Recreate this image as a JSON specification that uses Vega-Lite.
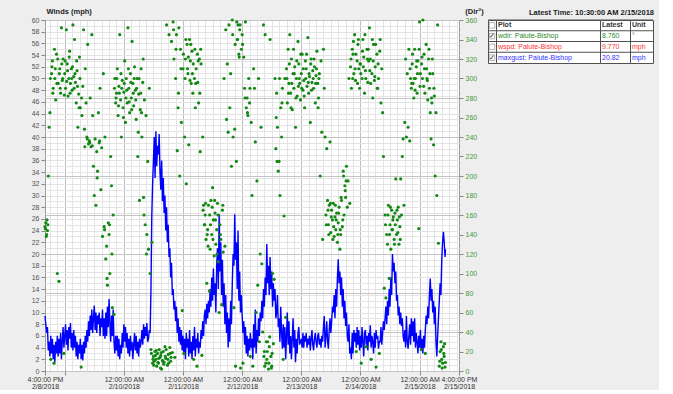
{
"$schema": "https://vega.github.io/schema/vega-lite/v6.json",
"background": "#eeeeee",
"padding": {"left": 26, "top": 6, "right": 5, "bottom": 0},
"config": {"font": "Liberation Sans", "view": {"stroke": null}},
"bounds": "flush",
"spacing": 29,
"resolve": {"scale": {"x": "independent", "y": "independent", "color": "independent"}},
"hconcat": [
{
"width": 414, "height": 351,
"view": {"fill": "white", "stroke": "#9a9a9a"},
"data": {"values": [
{"t":"2018-02-08T16:00","g":9.4,"d":148},{"t":"2018-02-08T16:20","g":8,"d":152},{"t":"2018-02-08T16:40","g":6.5,"d":140},
{"t":"2018-02-08T17:00","g":7.5,"d":144},{"t":"2018-02-08T17:20","g":3.5,"d":200},{"t":"2018-02-08T17:40","g":5,"d":250},
{"t":"2018-02-08T18:00","g":2.5,"d":265},{"t":"2018-02-08T18:20","g":6,"d":12},{"t":"2018-02-08T18:40","g":3,"d":305},
{"t":"2018-02-08T19:00","g":5.5,"d":318},{"t":"2018-02-08T19:20","g":2,"d":290},{"t":"2018-02-08T19:40","g":4.5,"d":8},
{"t":"2018-02-08T20:00","g":1.5,"d":300},{"t":"2018-02-08T20:20","g":5,"d":278},{"t":"2018-02-08T20:40","g":3,"d":325},
{"t":"2018-02-08T21:00","g":6,"d":100},{"t":"2018-02-08T21:20","g":2.5,"d":295},{"t":"2018-02-08T21:40","g":5.5,"d":92},
{"t":"2018-02-08T22:00","g":3,"d":310},{"t":"2018-02-08T22:20","g":6.5,"d":285},{"t":"2018-02-08T22:40","g":2,"d":352},
{"t":"2018-02-08T23:00","g":5,"d":298},{"t":"2018-02-08T23:20","g":7.5,"d":320},{"t":"2018-02-08T23:40","g":4,"d":18},
{"t":"2018-02-09T00:00","g":6,"d":305},{"t":"2018-02-09T00:20","g":8,"d":290},{"t":"2018-02-09T00:40","g":4.5,"d":350},
{"t":"2018-02-09T01:00","g":7,"d":315},{"t":"2018-02-09T01:20","g":3.5,"d":282},{"t":"2018-02-09T01:40","g":7.5,"d":300},
{"t":"2018-02-09T02:00","g":5.5,"d":328},{"t":"2018-02-09T02:20","g":8.2,"d":295},{"t":"2018-02-09T02:40","g":4,"d":310},
{"t":"2018-02-09T03:00","g":6.5,"d":288},{"t":"2018-02-09T03:20","g":3.5,"d":355},{"t":"2018-02-09T03:40","g":7,"d":302},
{"t":"2018-02-09T04:00","g":4,"d":340},{"t":"2018-02-09T04:20","g":6,"d":296},{"t":"2018-02-09T04:40","g":2.5,"d":275},
{"t":"2018-02-09T05:00","g":5,"d":308},{"t":"2018-02-09T05:20","g":2,"d":250},{"t":"2018-02-09T05:40","g":4.5,"d":284},
{"t":"2018-02-09T06:00","g":3,"d":322},{"t":"2018-02-09T06:20","g":5.5,"d":270},{"t":"2018-02-09T06:40","g":2,"d":4},
{"t":"2018-02-09T07:00","g":4.5,"d":262},{"t":"2018-02-09T07:20","g":1.8,"d":292},{"t":"2018-02-09T07:40","g":5,"d":350},
{"t":"2018-02-09T08:00","g":3,"d":248},{"t":"2018-02-09T08:20","g":6,"d":310},{"t":"2018-02-09T08:40","g":4,"d":275},
{"t":"2018-02-09T09:00","g":7,"d":240},{"t":"2018-02-09T09:20","g":5,"d":335},{"t":"2018-02-09T09:40","g":8.5,"d":233},
{"t":"2018-02-09T10:00","g":6,"d":236},{"t":"2018-02-09T10:20","g":9.5,"d":280},{"t":"2018-02-09T10:40","g":7,"d":230},
{"t":"2018-02-09T11:00","g":10.5,"d":345},{"t":"2018-02-09T11:20","g":6.5,"d":262},{"t":"2018-02-09T11:40","g":9,"d":210},
{"t":"2018-02-09T12:00","g":11.2,"d":180},{"t":"2018-02-09T12:20","g":7,"d":238},{"t":"2018-02-09T12:40","g":10,"d":170},
{"t":"2018-02-09T13:00","g":6.5,"d":225},{"t":"2018-02-09T13:20","g":9.5,"d":205},{"t":"2018-02-09T13:40","g":8,"d":265},
{"t":"2018-02-09T14:00","g":10,"d":234},{"t":"2018-02-09T14:20","g":6,"d":290},{"t":"2018-02-09T14:40","g":9,"d":186},
{"t":"2018-02-09T15:00","g":7.5,"d":229},{"t":"2018-02-09T15:20","g":10.5,"d":138},{"t":"2018-02-09T15:40","g":6,"d":305},
{"t":"2018-02-09T16:00","g":9,"d":148},{"t":"2018-02-09T16:20","g":5.5,"d":240},{"t":"2018-02-09T16:40","g":10,"d":115},
{"t":"2018-02-09T17:00","g":6,"d":128},{"t":"2018-02-09T17:20","g":11,"d":88},{"t":"2018-02-09T17:40","g":7.5,"d":152},
{"t":"2018-02-09T18:00","g":12.3,"d":140},{"t":"2018-02-09T18:20","g":8,"d":100},{"t":"2018-02-09T18:40","g":5,"d":220},
{"t":"2018-02-09T19:00","g":9.5,"d":190},{"t":"2018-02-09T19:20","g":6,"d":65},{"t":"2018-02-09T19:40","g":10.5,"d":160},
{"t":"2018-02-09T20:00","g":5,"d":58},{"t":"2018-02-09T20:20","g":3,"d":300},{"t":"2018-02-09T20:40","g":6,"d":275},
{"t":"2018-02-09T21:00","g":3.5,"d":285},{"t":"2018-02-09T21:20","g":6,"d":310},{"t":"2018-02-09T21:40","g":2.5,"d":262},
{"t":"2018-02-09T22:00","g":5.5,"d":292},{"t":"2018-02-09T22:20","g":2,"d":345},{"t":"2018-02-09T22:40","g":4.5,"d":278},
{"t":"2018-02-09T23:00","g":3,"d":240},{"t":"2018-02-09T23:20","g":6.5,"d":298},{"t":"2018-02-09T23:40","g":4,"d":270},
{"t":"2018-02-10T00:00","g":8,"d":286},{"t":"2018-02-10T00:20","g":5,"d":318},{"t":"2018-02-10T00:40","g":7.5,"d":255},
{"t":"2018-02-10T01:00","g":4,"d":300},{"t":"2018-02-10T01:20","g":6.5,"d":275},{"t":"2018-02-10T01:40","g":3,"d":352},
{"t":"2018-02-10T02:00","g":5.5,"d":290},{"t":"2018-02-10T02:20","g":2.5,"d":265},{"t":"2018-02-10T02:40","g":6,"d":305},
{"t":"2018-02-10T03:00","g":3.5,"d":280},{"t":"2018-02-10T03:20","g":5,"d":338},{"t":"2018-02-10T03:40","g":2,"d":295},
{"t":"2018-02-10T04:00","g":4.5,"d":272},{"t":"2018-02-10T04:20","g":6.5,"d":312},{"t":"2018-02-10T04:40","g":3.5,"d":288},
{"t":"2018-02-10T05:00","g":6,"d":258},{"t":"2018-02-10T05:20","g":3,"d":300},{"t":"2018-02-10T05:40","g":5,"d":220},
{"t":"2018-02-10T06:00","g":2.5,"d":284},{"t":"2018-02-10T06:20","g":5.5,"d":175},{"t":"2018-02-10T06:40","g":4,"d":268},
{"t":"2018-02-10T07:00","g":5,"d":310},{"t":"2018-02-10T07:20","g":7,"d":240},{"t":"2018-02-10T07:40","g":4.5,"d":296},
{"t":"2018-02-10T08:00","g":8,"d":178},{"t":"2018-02-10T08:20","g":5.5,"d":278},{"t":"2018-02-10T08:40","g":7.5,"d":150},
{"t":"2018-02-10T09:00","g":6,"d":262},{"t":"2018-02-10T09:20","g":8.2,"d":140},{"t":"2018-02-10T09:40","g":5,"d":215},
{"t":"2018-02-10T10:00","g":5.5,"d":125},{"t":"2018-02-10T10:20","g":7,"d":290},{"t":"2018-02-10T10:40","g":6.5,"d":100},
{"t":"2018-02-10T11:00","g":14,"d":22},{"t":"2018-02-10T11:20","g":26.5,"d":132},{"t":"2018-02-10T11:40","g":32,"d":8},
{"t":"2018-02-10T12:00","g":36,"d":15},{"t":"2018-02-10T12:20","g":40,"d":10},{"t":"2018-02-10T12:40","g":33,"d":20},
{"t":"2018-02-10T13:00","g":41,"d":12},{"t":"2018-02-10T13:20","g":35,"d":5},{"t":"2018-02-10T13:40","g":38.5,"d":18},
{"t":"2018-02-10T14:00","g":37,"d":8},{"t":"2018-02-10T14:20","g":40.5,"d":22},{"t":"2018-02-10T14:40","g":34,"d":14},
{"t":"2018-02-10T15:00","g":31,"d":16},{"t":"2018-02-10T15:20","g":36,"d":2},{"t":"2018-02-10T15:40","g":29,"d":11},
{"t":"2018-02-10T16:00","g":33,"d":20},{"t":"2018-02-10T16:20","g":27,"d":9},{"t":"2018-02-10T16:40","g":30,"d":25},
{"t":"2018-02-10T17:00","g":24,"d":13},{"t":"2018-02-10T17:20","g":28,"d":355},{"t":"2018-02-10T17:40","g":22,"d":6},
{"t":"2018-02-10T18:00","g":25,"d":17},{"t":"2018-02-10T18:20","g":19.5,"d":345},{"t":"2018-02-10T18:40","g":21,"d":24},
{"t":"2018-02-10T19:00","g":16,"d":10},{"t":"2018-02-10T19:20","g":18.5,"d":338},{"t":"2018-02-10T19:40","g":13,"d":19},
{"t":"2018-02-10T20:00","g":14,"d":358},{"t":"2018-02-10T20:20","g":10.5,"d":320},{"t":"2018-02-10T20:40","g":12,"d":14},
{"t":"2018-02-10T21:00","g":8.5,"d":300},{"t":"2018-02-10T21:20","g":11,"d":345},{"t":"2018-02-10T21:40","g":6.5,"d":226},
{"t":"2018-02-10T22:00","g":9,"d":270},{"t":"2018-02-10T22:20","g":5,"d":352},{"t":"2018-02-10T22:40","g":7.5,"d":200},
{"t":"2018-02-10T23:00","g":4.5,"d":330},{"t":"2018-02-10T23:20","g":7,"d":255},{"t":"2018-02-10T23:40","g":3.5,"d":62},
{"t":"2018-02-11T00:00","g":6,"d":310},{"t":"2018-02-11T00:20","g":3,"d":18},{"t":"2018-02-11T00:40","g":5.5,"d":240},
{"t":"2018-02-11T01:00","g":2,"d":320},{"t":"2018-02-11T01:20","g":6.5,"d":192},{"t":"2018-02-11T01:40","g":4,"d":335},
{"t":"2018-02-11T02:00","g":5.5,"d":305},{"t":"2018-02-11T02:20","g":2.5,"d":232},{"t":"2018-02-11T02:40","g":7,"d":340},
{"t":"2018-02-11T03:00","g":3,"d":318},{"t":"2018-02-11T03:20","g":5,"d":295},{"t":"2018-02-11T03:40","g":2,"d":328},
{"t":"2018-02-11T04:00","g":6,"d":285},{"t":"2018-02-11T04:20","g":3.5,"d":12},{"t":"2018-02-11T04:40","g":7.5,"d":300},
{"t":"2018-02-11T05:00","g":2.5,"d":270},{"t":"2018-02-11T05:20","g":5.5,"d":310},{"t":"2018-02-11T05:40","g":4,"d":5},
{"t":"2018-02-11T06:00","g":6.5,"d":296},{"t":"2018-02-11T06:20","g":3,"d":275},{"t":"2018-02-11T06:40","g":5,"d":320},
{"t":"2018-02-11T07:00","g":4,"d":225},{"t":"2018-02-11T07:20","g":7,"d":315},{"t":"2018-02-11T07:40","g":5.5,"d":16},
{"t":"2018-02-11T08:00","g":8.5,"d":240},{"t":"2018-02-11T08:20","g":6,"d":170},{"t":"2018-02-11T08:40","g":9.5,"d":150},
{"t":"2018-02-11T09:00","g":10.5,"d":160},{"t":"2018-02-11T09:20","g":8,"d":135},{"t":"2018-02-11T09:40","g":11.5,"d":90},
{"t":"2018-02-11T10:00","g":9,"d":145},{"t":"2018-02-11T10:20","g":12,"d":170},{"t":"2018-02-11T10:40","g":10,"d":82},
{"t":"2018-02-11T11:00","g":14,"d":125},{"t":"2018-02-11T11:20","g":11,"d":175},{"t":"2018-02-11T11:40","g":16,"d":140},
{"t":"2018-02-11T12:00","g":12,"d":188},{"t":"2018-02-11T12:20","g":17.5,"d":155},{"t":"2018-02-11T12:40","g":13,"d":118},
{"t":"2018-02-11T13:00","g":15,"d":162},{"t":"2018-02-11T13:20","g":10,"d":130},{"t":"2018-02-11T13:40","g":18,"d":145},
{"t":"2018-02-11T14:00","g":21,"d":172},{"t":"2018-02-11T14:20","g":14,"d":112},{"t":"2018-02-11T14:40","g":26.8,"d":60},
{"t":"2018-02-11T15:00","g":17,"d":150},{"t":"2018-02-11T15:20","g":22,"d":135},{"t":"2018-02-11T15:40","g":13,"d":68},
{"t":"2018-02-11T16:00","g":19,"d":165},{"t":"2018-02-11T16:20","g":11,"d":122},{"t":"2018-02-11T16:40","g":15,"d":300},
{"t":"2018-02-11T17:00","g":8,"d":128},{"t":"2018-02-11T17:20","g":13,"d":350},{"t":"2018-02-11T17:40","g":6.5,"d":258},
{"t":"2018-02-11T18:00","g":10,"d":315},{"t":"2018-02-11T18:20","g":4,"d":245},{"t":"2018-02-11T18:40","g":9,"d":355},
{"t":"2018-02-11T19:00","g":5,"d":270},{"t":"2018-02-11T19:20","g":12,"d":305},{"t":"2018-02-11T19:40","g":8,"d":210},
{"t":"2018-02-11T20:00","g":15,"d":360},{"t":"2018-02-11T20:20","g":20,"d":240},{"t":"2018-02-11T20:40","g":18,"d":65},
{"t":"2018-02-11T21:00","g":26.8,"d":248},{"t":"2018-02-11T21:20","g":19,"d":5},{"t":"2018-02-11T21:40","g":22,"d":215},
{"t":"2018-02-11T22:00","g":14,"d":340},{"t":"2018-02-11T22:20","g":24,"d":355},{"t":"2018-02-11T22:40","g":12,"d":325},
{"t":"2018-02-11T23:00","g":17,"d":350},{"t":"2018-02-11T23:20","g":10,"d":3},{"t":"2018-02-11T23:40","g":13,"d":330},
{"t":"2018-02-12T00:00","g":9.5,"d":345},{"t":"2018-02-12T00:20","g":6.5,"d":8},{"t":"2018-02-12T00:40","g":8.5,"d":322},
{"t":"2018-02-12T01:00","g":4.5,"d":290},{"t":"2018-02-12T01:20","g":7.5,"d":358},{"t":"2018-02-12T01:40","g":3,"d":270},
{"t":"2018-02-12T02:00","g":6,"d":280},{"t":"2018-02-12T02:20","g":2.5,"d":262},{"t":"2018-02-12T02:40","g":5.5,"d":300},
{"t":"2018-02-12T03:00","g":3.5,"d":275},{"t":"2018-02-12T03:20","g":6.5,"d":15},{"t":"2018-02-12T03:40","g":4,"d":255},
{"t":"2018-02-12T04:00","g":5.5,"d":180},{"t":"2018-02-12T04:20","g":2,"d":5},{"t":"2018-02-12T04:40","g":8,"d":310},
{"t":"2018-02-12T05:00","g":4,"d":290},{"t":"2018-02-12T05:20","g":10.5,"d":235},{"t":"2018-02-12T05:40","g":3,"d":60},
{"t":"2018-02-12T06:00","g":7,"d":195},{"t":"2018-02-12T06:20","g":5,"d":88},{"t":"2018-02-12T06:40","g":9,"d":300},
{"t":"2018-02-12T07:00","g":6,"d":30},{"t":"2018-02-12T07:20","g":10,"d":120},{"t":"2018-02-12T07:40","g":8.5,"d":250},
{"t":"2018-02-12T08:00","g":12,"d":110},{"t":"2018-02-12T08:20","g":9,"d":40},{"t":"2018-02-12T08:40","g":14,"d":355},
{"t":"2018-02-12T09:00","g":11,"d":20},{"t":"2018-02-12T09:20","g":16,"d":345},{"t":"2018-02-12T09:40","g":13,"d":8},
{"t":"2018-02-12T10:00","g":21.7,"d":12},{"t":"2018-02-12T10:20","g":15,"d":30},{"t":"2018-02-12T10:40","g":18,"d":2},
{"t":"2018-02-12T11:00","g":13,"d":25},{"t":"2018-02-12T11:20","g":19.5,"d":340},{"t":"2018-02-12T11:40","g":14,"d":15},
{"t":"2018-02-12T12:00","g":17,"d":5},{"t":"2018-02-12T12:20","g":11,"d":100},{"t":"2018-02-12T12:40","g":15,"d":28},
{"t":"2018-02-12T13:00","g":12,"d":94},{"t":"2018-02-12T13:20","g":14,"d":300},{"t":"2018-02-12T13:40","g":9,"d":228},
{"t":"2018-02-12T14:00","g":10,"d":285},{"t":"2018-02-12T14:20","g":13,"d":250},{"t":"2018-02-12T14:40","g":7.5,"d":205},
{"t":"2018-02-12T15:00","g":9,"d":215},{"t":"2018-02-12T15:20","g":5,"d":180},{"t":"2018-02-12T15:40","g":11,"d":270},
{"t":"2018-02-12T16:00","g":6.5,"d":240},{"t":"2018-02-12T16:20","g":3.8,"d":290},{"t":"2018-02-12T16:40","g":8,"d":12},
{"t":"2018-02-12T17:00","g":4,"d":159},{"t":"2018-02-12T17:20","g":7.5,"d":300},{"t":"2018-02-12T17:40","g":2,"d":55},
{"t":"2018-02-12T18:00","g":6,"d":310},{"t":"2018-02-12T18:20","g":10,"d":275},{"t":"2018-02-12T18:40","g":4.5,"d":330},
{"t":"2018-02-12T19:00","g":8.5,"d":295},{"t":"2018-02-12T19:20","g":3,"d":345},{"t":"2018-02-12T19:40","g":6,"d":285},
{"t":"2018-02-12T20:00","g":2,"d":320},{"t":"2018-02-12T20:20","g":5.5,"d":268},{"t":"2018-02-12T20:40","g":9,"d":305},
{"t":"2018-02-12T21:00","g":4,"d":290},{"t":"2018-02-12T21:20","g":7,"d":312},{"t":"2018-02-12T21:40","g":1.5,"d":250},
{"t":"2018-02-12T22:00","g":5.5,"d":300},{"t":"2018-02-12T22:20","g":3,"d":282},{"t":"2018-02-12T22:40","g":6.5,"d":338},
{"t":"2018-02-12T23:00","g":7.5,"d":315},{"t":"2018-02-12T23:20","g":4.5,"d":295},{"t":"2018-02-12T23:40","g":5,"d":278},
{"t":"2018-02-13T00:00","g":5.5,"d":305},{"t":"2018-02-13T00:20","g":4,"d":325},{"t":"2018-02-13T00:40","g":6.5,"d":288},
{"t":"2018-02-13T01:00","g":4,"d":298},{"t":"2018-02-13T01:20","g":6,"d":270},{"t":"2018-02-13T01:40","g":5,"d":318},
{"t":"2018-02-13T02:00","g":6.5,"d":310},{"t":"2018-02-13T02:20","g":4,"d":292},{"t":"2018-02-13T02:40","g":5.5,"d":342},
{"t":"2018-02-13T03:00","g":4.5,"d":285},{"t":"2018-02-13T03:20","g":6,"d":302},{"t":"2018-02-13T03:40","g":3.5,"d":255},
{"t":"2018-02-13T04:00","g":5.5,"d":320},{"t":"2018-02-13T04:20","g":7,"d":296},{"t":"2018-02-13T04:40","g":4.5,"d":308},
{"t":"2018-02-13T05:00","g":3.5,"d":290},{"t":"2018-02-13T05:20","g":5.5,"d":312},{"t":"2018-02-13T05:40","g":6.5,"d":275},
{"t":"2018-02-13T06:00","g":5,"d":303},{"t":"2018-02-13T06:20","g":4,"d":328},{"t":"2018-02-13T06:40","g":6,"d":295},
{"t":"2018-02-13T07:00","g":6.5,"d":280},{"t":"2018-02-13T07:20","g":4.5,"d":305},{"t":"2018-02-13T07:40","g":5.5,"d":200},
{"t":"2018-02-13T08:00","g":4,"d":318},{"t":"2018-02-13T08:20","g":6,"d":245},{"t":"2018-02-13T08:40","g":5,"d":135},
{"t":"2018-02-13T09:00","g":7.5,"d":330},{"t":"2018-02-13T09:20","g":9.4,"d":290},{"t":"2018-02-13T09:40","g":4,"d":240},
{"t":"2018-02-13T10:00","g":6,"d":160},{"t":"2018-02-13T10:20","g":8.5,"d":228},{"t":"2018-02-13T10:40","g":5,"d":175},
{"t":"2018-02-13T11:00","g":3.8,"d":150},{"t":"2018-02-13T11:20","g":7,"d":170},{"t":"2018-02-13T11:40","g":9,"d":235},
{"t":"2018-02-13T12:00","g":6.5,"d":142},{"t":"2018-02-13T12:20","g":8.5,"d":165},{"t":"2018-02-13T12:40","g":11,"d":155},
{"t":"2018-02-13T13:00","g":10,"d":172},{"t":"2018-02-13T13:20","g":13,"d":138},{"t":"2018-02-13T13:40","g":9,"d":158},
{"t":"2018-02-13T14:00","g":14,"d":145},{"t":"2018-02-13T14:20","g":11,"d":162},{"t":"2018-02-13T14:40","g":16,"d":132},
{"t":"2018-02-13T15:00","g":19.1,"d":152},{"t":"2018-02-13T15:20","g":15,"d":168},{"t":"2018-02-13T15:40","g":17,"d":125},
{"t":"2018-02-13T16:00","g":13,"d":140},{"t":"2018-02-13T16:20","g":16,"d":175},{"t":"2018-02-13T16:40","g":11,"d":148},
{"t":"2018-02-13T17:00","g":14,"d":205},{"t":"2018-02-13T17:20","g":9,"d":160},{"t":"2018-02-13T17:40","g":12,"d":190},
{"t":"2018-02-13T18:00","g":7.7,"d":178},{"t":"2018-02-13T18:20","g":10,"d":210},{"t":"2018-02-13T18:40","g":6,"d":168},
{"t":"2018-02-13T19:00","g":5,"d":195},{"t":"2018-02-13T19:20","g":8,"d":300},{"t":"2018-02-13T19:40","g":3,"d":172},
{"t":"2018-02-13T20:00","g":4,"d":312},{"t":"2018-02-13T20:20","g":2,"d":290},{"t":"2018-02-13T20:40","g":6.5,"d":330},
{"t":"2018-02-13T21:00","g":3,"d":325},{"t":"2018-02-13T21:20","g":7,"d":305},{"t":"2018-02-13T21:40","g":5,"d":345},
{"t":"2018-02-13T22:00","g":6.5,"d":298},{"t":"2018-02-13T22:20","g":4,"d":20},{"t":"2018-02-13T22:40","g":7.5,"d":318},
{"t":"2018-02-13T23:00","g":4.5,"d":335},{"t":"2018-02-13T23:20","g":7,"d":310},{"t":"2018-02-13T23:40","g":3.5,"d":290},
{"t":"2018-02-14T00:00","g":6,"d":315},{"t":"2018-02-14T00:20","g":4,"d":8},{"t":"2018-02-14T00:40","g":7.5,"d":300},
{"t":"2018-02-14T01:00","g":5,"d":340},{"t":"2018-02-14T01:20","g":2.5,"d":322},{"t":"2018-02-14T01:40","g":6.5,"d":285},
{"t":"2018-02-14T02:00","g":7,"d":308},{"t":"2018-02-14T02:20","g":4.5,"d":25},{"t":"2018-02-14T02:40","g":6,"d":330},
{"t":"2018-02-14T03:00","g":3.5,"d":296},{"t":"2018-02-14T03:20","g":6.5,"d":318},{"t":"2018-02-14T03:40","g":5,"d":352},
{"t":"2018-02-14T04:00","g":7.8,"d":320},{"t":"2018-02-14T04:20","g":4,"d":12},{"t":"2018-02-14T04:40","g":6,"d":305},
{"t":"2018-02-14T05:00","g":5,"d":280},{"t":"2018-02-14T05:20","g":3,"d":335},{"t":"2018-02-14T05:40","g":6.5,"d":298},
{"t":"2018-02-14T06:00","g":4,"d":312},{"t":"2018-02-14T06:20","g":7,"d":4},{"t":"2018-02-14T06:40","g":5.5,"d":325},
{"t":"2018-02-14T07:00","g":6,"d":290},{"t":"2018-02-14T07:20","g":3.8,"d":300},{"t":"2018-02-14T07:40","g":5,"d":18},
{"t":"2018-02-14T08:00","g":5,"d":340},{"t":"2018-02-14T08:20","g":7.5,"d":275},{"t":"2018-02-14T08:40","g":4.5,"d":310},
{"t":"2018-02-14T09:00","g":6.5,"d":265},{"t":"2018-02-14T09:20","g":8.5,"d":220},{"t":"2018-02-14T09:40","g":7,"d":85},
{"t":"2018-02-14T10:00","g":9,"d":160},{"t":"2018-02-14T10:20","g":11,"d":75},{"t":"2018-02-14T10:40","g":8,"d":140},
{"t":"2018-02-14T11:00","g":12,"d":130},{"t":"2018-02-14T11:20","g":9.5,"d":170},{"t":"2018-02-14T11:40","g":14,"d":95},
{"t":"2018-02-14T12:00","g":11,"d":150},{"t":"2018-02-14T12:20","g":16,"d":125},{"t":"2018-02-14T12:40","g":13,"d":165},
{"t":"2018-02-14T13:00","g":20,"d":145},{"t":"2018-02-14T13:20","g":17,"d":158},{"t":"2018-02-14T13:40","g":18.5,"d":135},
{"t":"2018-02-14T14:00","g":15,"d":162},{"t":"2018-02-14T14:20","g":17,"d":197},{"t":"2018-02-14T14:40","g":12,"d":140},
{"t":"2018-02-14T15:00","g":13,"d":155},{"t":"2018-02-14T15:20","g":9.5,"d":168},{"t":"2018-02-14T15:40","g":11,"d":130},
{"t":"2018-02-14T16:00","g":8,"d":148},{"t":"2018-02-14T16:20","g":10,"d":197},{"t":"2018-02-14T16:40","g":7.7,"d":160},
{"t":"2018-02-14T17:00","g":9,"d":220},{"t":"2018-02-14T17:20","g":6,"d":238},{"t":"2018-02-14T17:40","g":5,"d":170},
{"t":"2018-02-14T18:00","g":7,"d":255},{"t":"2018-02-14T18:20","g":4,"d":320},{"t":"2018-02-14T18:40","g":9.4,"d":240},
{"t":"2018-02-14T19:00","g":5,"d":305},{"t":"2018-02-14T19:20","g":3.8,"d":250},{"t":"2018-02-14T19:40","g":6,"d":330},
{"t":"2018-02-14T20:00","g":8,"d":236},{"t":"2018-02-14T20:20","g":4.5,"d":300},{"t":"2018-02-14T20:40","g":9,"d":290},
{"t":"2018-02-14T21:00","g":6,"d":315},{"t":"2018-02-14T21:20","g":8.5,"d":295},{"t":"2018-02-14T21:40","g":5,"d":280},
{"t":"2018-02-14T22:00","g":9,"d":330},{"t":"2018-02-14T22:20","g":4,"d":300},{"t":"2018-02-14T22:40","g":6.5,"d":312},
{"t":"2018-02-14T23:00","g":5,"d":285},{"t":"2018-02-14T23:20","g":3,"d":318},{"t":"2018-02-14T23:40","g":6,"d":146},
{"t":"2018-02-15T00:00","g":4,"d":358},{"t":"2018-02-15T00:20","g":7,"d":305},{"t":"2018-02-15T00:40","g":3.5,"d":22},
{"t":"2018-02-15T01:00","g":5.5,"d":322},{"t":"2018-02-15T01:20","g":3,"d":360},{"t":"2018-02-15T01:40","g":6,"d":292},
{"t":"2018-02-15T02:00","g":4,"d":310},{"t":"2018-02-15T02:20","g":7,"d":18},{"t":"2018-02-15T02:40","g":9.5,"d":335},
{"t":"2018-02-15T03:00","g":8,"d":300},{"t":"2018-02-15T03:20","g":11,"d":278},{"t":"2018-02-15T03:40","g":9,"d":320},
{"t":"2018-02-15T04:00","g":13,"d":290},{"t":"2018-02-15T04:20","g":15.8,"d":265},{"t":"2018-02-15T04:40","g":12,"d":238},
{"t":"2018-02-15T05:00","g":14,"d":275},{"t":"2018-02-15T05:20","g":10,"d":305},{"t":"2018-02-15T05:40","g":12,"d":232},
{"t":"2018-02-15T06:00","g":8,"d":282},{"t":"2018-02-15T06:20","g":11,"d":200},{"t":"2018-02-15T06:40","g":5,"d":265},
{"t":"2018-02-15T07:00","g":2.5,"d":180},{"t":"2018-02-15T07:20","g":6,"d":355},{"t":"2018-02-15T07:40","g":9,"d":131},
{"t":"2018-02-15T08:00","g":12,"d":5},{"t":"2018-02-15T08:20","g":15,"d":20},{"t":"2018-02-15T08:40","g":13,"d":30},
{"t":"2018-02-15T09:00","g":19,"d":12},{"t":"2018-02-15T09:20","g":22,"d":8},{"t":"2018-02-15T09:40","g":23.8,"d":25},
{"t":"2018-02-15T10:00","g":22,"d":15},{"t":"2018-02-15T10:20","g":19.5,"d":4},{"t":"2018-02-15T10:30","g":20.82,"d":8.76}
]},
"layer": [
{
"mark": {"type": "point", "opacity": 0},
"encoding": {
"x": {"field": "t", "type": "temporal", "scale": {"domain": ["2018-02-08T16:00", "2018-02-15T16:00"]},
"axis": {"orient": "bottom", "grid": true, "gridColor": "#e4e4e4", "labels": false, "ticks": false, "domain": false, "title": null, "tickCount": 56}},
"y": {"field": "g", "type": "quantitative", "scale": {"domain": [0, 60], "nice": false, "zero": false},
"axis": {"orient": "left", "grid": true, "gridColor": "#e4e4e4", "labels": false, "ticks": false, "domain": false, "title": null, "values": [0,1,2,3,4,5,6,7,8,9,10,11,12,13,14,15,16,17,18,19,20,21,22,23,24,25,26,27,28,29,30,31,32,33,34,35,36,37,38,39,40,41,42,43,44,45,46,47,48,49,50,51,52,53,54,55,56,57,58,59,60]}}
}
},
{
"mark": {"type": "point", "opacity": 0},
"encoding": {
"x": {"field": "t", "type": "temporal",
"axis": {"orient": "bottom", "grid": true, "gridColor": "#bdbdbd", "labels": false, "ticks": false, "domain": false, "title": null, "tickCount": 7}},
"y": {"field": "d", "type": "quantitative", "scale": {"domain": [0, 360], "nice": false, "zero": false},
"axis": {"orient": "right", "grid": true, "gridColor": "#c4c4c4", "labels": false, "ticks": false, "domain": false, "title": null, "values": [0, 40, 80, 120, 160, 200, 240, 280, 320, 360]}}
}
},
{
"mark": {"type": "line", "color": "#0000ff", "strokeWidth": 1.4},
"encoding": {
"x": {"field": "t", "type": "temporal",
"axis": {"orient": "bottom", "grid": false, "domain": false, "title": null, "tickSize": 4, "tickColor": "#888888", "labelFontSize": 7, "labelColor": "#333333", "labelPadding": 0, "labelFlush": false, "labelOverlap": false,
"values": ["2018-02-08T16:00", "2018-02-09T00:00", "2018-02-10T00:00", "2018-02-11T00:00", "2018-02-12T00:00", "2018-02-13T00:00", "2018-02-14T00:00", "2018-02-15T00:00", "2018-02-15T16:00"],
"labelExpr": "(hours(datum.value) == 0 && date(datum.value) == 9) ? '' : timeFormat(datum.value, '%-I:%M:%S %p')"}},
"y": {"field": "g", "type": "quantitative", "scale": {"domain": [0, 60], "nice": false, "zero": false},
"axis": {"orient": "left", "grid": false, "domain": false, "values": [0,2,4,6,8,10,12,14,16,18,20,22,24,26,28,30,32,34,36,38,40,42,44,46,48,50,52,54,56,58,60], "tickSize": 4, "tickColor": "#888888", "labelFontSize": 7, "labelColor": "#555555", "labelPadding": 2,
"title": "Winds (mph)", "titleAngle": 0, "titleX": 1, "titleY": -5, "titleAlign": "left", "titleBaseline": "bottom", "titleFontSize": 7.5, "titleFontWeight": "bold", "titleColor": "#222222"}}
}
},
{
"mark": {"type": "circle", "color": "#118811", "size": 10, "opacity": 1},
"encoding": {
"x": {"field": "t", "type": "temporal",
"axis": {"orient": "bottom", "grid": false, "domain": false, "title": null, "ticks": false, "tickSize": 0, "labelFontSize": 7, "labelColor": "#333333", "labelPadding": 11, "labelFlush": false, "labelOverlap": false,
"values": ["2018-02-08T16:00", "2018-02-09T00:00", "2018-02-10T00:00", "2018-02-11T00:00", "2018-02-12T00:00", "2018-02-13T00:00", "2018-02-14T00:00", "2018-02-15T00:00", "2018-02-15T16:00"],
"labelExpr": "(hours(datum.value) == 0 && date(datum.value) == 9) ? '' : timeFormat(datum.value, '%-m/%-d/%Y')"}},
"y": {"field": "d", "type": "quantitative", "scale": {"domain": [0, 360], "nice": false, "zero": false},
"axis": {"orient": "right", "grid": false, "domain": false, "values": [0,20,40,60,80,100,120,140,160,180,200,220,240,260,280,300,320,340,360], "tickSize": 4, "tickColor": "#888888", "labelFontSize": 7, "labelColor": "#3f9a3f", "labelPadding": 2,
"title": "(Dir°)", "titleAngle": 0, "titleX": 15, "titleY": -5, "titleAlign": "center", "titleBaseline": "bottom", "titleFontSize": 7.5, "titleFontWeight": "bold", "titleColor": "#222222"}}
}
},
{
"data": {"values": [
{"t":"2018-02-08T16:10","d":146},{"t":"2018-02-08T16:30","d":138},{"t":"2018-02-08T16:50","d":155},{"t":"2018-02-08T17:10","d":150},
{"t":"2018-02-08T18:10","d":300},{"t":"2018-02-08T18:50","d":312},{"t":"2018-02-08T19:10","d":285},{"t":"2018-02-08T19:50","d":330},
{"t":"2018-02-08T20:10","d":310},{"t":"2018-02-08T20:50","d":295},{"t":"2018-02-08T21:10","d":320},{"t":"2018-02-08T21:50","d":305},
{"t":"2018-02-08T22:10","d":290},{"t":"2018-02-08T22:50","d":315},{"t":"2018-02-08T23:10","d":300},{"t":"2018-02-08T23:50","d":283},
{"t":"2018-02-09T00:10","d":318},{"t":"2018-02-09T00:50","d":297},{"t":"2018-02-09T01:10","d":308},{"t":"2018-02-09T01:50","d":322},
{"t":"2018-02-09T02:10","d":285},{"t":"2018-02-09T02:50","d":300},{"t":"2018-02-09T03:10","d":312},{"t":"2018-02-09T03:50","d":290},
{"t":"2018-02-09T04:10","d":305},{"t":"2018-02-09T04:50","d":318},{"t":"2018-02-09T05:10","d":292},{"t":"2018-02-09T05:50","d":270},
{"t":"2018-02-09T06:10","d":300},{"t":"2018-02-09T06:50","d":280},
{"t":"2018-02-09T08:10","d":230},{"t":"2018-02-09T09:10","d":238},{"t":"2018-02-09T10:10","d":234},{"t":"2018-02-09T11:10","d":231},
{"t":"2018-02-09T13:10","d":198},{"t":"2018-02-09T14:10","d":236},{"t":"2018-02-09T16:10","d":145},{"t":"2018-02-09T17:10","d":95},
{"t":"2018-02-09T18:10","d":150},{"t":"2018-02-09T19:10","d":120},
{"t":"2018-02-09T20:10","d":290},{"t":"2018-02-09T20:50","d":280},{"t":"2018-02-09T21:10","d":300},{"t":"2018-02-09T21:50","d":272},
{"t":"2018-02-09T22:10","d":285},{"t":"2018-02-09T22:50","d":305},{"t":"2018-02-09T23:10","d":290},{"t":"2018-02-09T23:50","d":260},
{"t":"2018-02-10T00:10","d":295},{"t":"2018-02-10T00:50","d":280},{"t":"2018-02-10T01:10","d":288},{"t":"2018-02-10T01:50","d":310},
{"t":"2018-02-10T02:10","d":276},{"t":"2018-02-10T02:50","d":296},{"t":"2018-02-10T03:10","d":268},{"t":"2018-02-10T03:50","d":285},
{"t":"2018-02-10T04:10","d":300},{"t":"2018-02-10T04:50","d":278},{"t":"2018-02-10T05:10","d":290},{"t":"2018-02-10T05:50","d":245},
{"t":"2018-02-10T06:10","d":300},{"t":"2018-02-10T06:50","d":285},{"t":"2018-02-10T07:10","d":265},{"t":"2018-02-10T07:50","d":320},
{"t":"2018-02-10T08:10","d":160},{"t":"2018-02-10T09:10","d":120},
{"t":"2018-02-10T11:10","d":18},{"t":"2018-02-10T11:50","d":12},{"t":"2018-02-10T12:10","d":6},{"t":"2018-02-10T12:50","d":16},
{"t":"2018-02-10T13:10","d":21},{"t":"2018-02-10T13:50","d":9},{"t":"2018-02-10T14:10","d":13},{"t":"2018-02-10T14:50","d":3},
{"t":"2018-02-10T15:10","d":19},{"t":"2018-02-10T15:50","d":10},{"t":"2018-02-10T16:10","d":7},{"t":"2018-02-10T16:50","d":15},
{"t":"2018-02-10T17:10","d":22},{"t":"2018-02-10T17:50","d":12},{"t":"2018-02-10T18:10","d":8},{"t":"2018-02-10T18:50","d":18},
{"t":"2018-02-10T19:10","d":14},
{"t":"2018-02-10T20:10","d":350},{"t":"2018-02-10T21:10","d":330},{"t":"2018-02-10T22:10","d":285},{"t":"2018-02-10T23:10","d":310},
{"t":"2018-02-11T00:10","d":325},{"t":"2018-02-11T00:50","d":300},{"t":"2018-02-11T01:10","d":340},{"t":"2018-02-11T01:50","d":310},
{"t":"2018-02-11T02:10","d":322},{"t":"2018-02-11T02:50","d":298},{"t":"2018-02-11T03:10","d":335},{"t":"2018-02-11T03:50","d":305},
{"t":"2018-02-11T04:10","d":315},{"t":"2018-02-11T04:50","d":330},{"t":"2018-02-11T05:10","d":295},{"t":"2018-02-11T05:50","d":325},
{"t":"2018-02-11T06:10","d":318},{"t":"2018-02-11T06:50","d":285},{"t":"2018-02-11T07:10","d":330},
{"t":"2018-02-11T08:10","d":165},{"t":"2018-02-11T08:50","d":150},{"t":"2018-02-11T09:10","d":172},{"t":"2018-02-11T09:50","d":140},
{"t":"2018-02-11T10:10","d":128},{"t":"2018-02-11T10:50","d":160},{"t":"2018-02-11T11:10","d":150},{"t":"2018-02-11T11:50","d":168},
{"t":"2018-02-11T12:10","d":135},{"t":"2018-02-11T12:50","d":175},{"t":"2018-02-11T13:10","d":155},{"t":"2018-02-11T13:50","d":120},
{"t":"2018-02-11T14:10","d":160},{"t":"2018-02-11T15:10","d":140},{"t":"2018-02-11T16:10","d":170},
{"t":"2018-02-11T20:10","d":345},{"t":"2018-02-11T21:10","d":335},{"t":"2018-02-11T21:50","d":358},{"t":"2018-02-11T22:10","d":340},
{"t":"2018-02-11T22:50","d":322},{"t":"2018-02-11T23:10","d":355},
{"t":"2018-02-12T00:10","d":335},{"t":"2018-02-12T01:10","d":280},{"t":"2018-02-12T02:10","d":265},{"t":"2018-02-12T03:10","d":290},
{"t":"2018-02-12T08:50","d":15},{"t":"2018-02-12T09:10","d":5},{"t":"2018-02-12T09:50","d":30},{"t":"2018-02-12T10:10","d":20},
{"t":"2018-02-12T10:50","d":8},{"t":"2018-02-12T11:10","d":35},{"t":"2018-02-12T11:50","d":3},{"t":"2018-02-12T12:10","d":18},
{"t":"2018-02-12T13:50","d":260},{"t":"2018-02-12T14:10","d":215},{"t":"2018-02-12T15:10","d":300},{"t":"2018-02-12T16:10","d":275},
{"t":"2018-02-12T18:10","d":300},{"t":"2018-02-12T18:50","d":285},{"t":"2018-02-12T19:10","d":315},{"t":"2018-02-12T19:50","d":270},
{"t":"2018-02-12T20:10","d":295},{"t":"2018-02-12T20:50","d":330},{"t":"2018-02-12T21:10","d":305},{"t":"2018-02-12T21:50","d":280},
{"t":"2018-02-12T22:10","d":318},{"t":"2018-02-12T22:50","d":292},{"t":"2018-02-12T23:10","d":300},{"t":"2018-02-12T23:50","d":325},
{"t":"2018-02-13T00:10","d":290},{"t":"2018-02-13T00:50","d":310},{"t":"2018-02-13T01:10","d":282},{"t":"2018-02-13T01:50","d":300},
{"t":"2018-02-13T02:10","d":325},{"t":"2018-02-13T02:50","d":296},{"t":"2018-02-13T03:10","d":305},{"t":"2018-02-13T03:50","d":315},
{"t":"2018-02-13T04:10","d":288},{"t":"2018-02-13T04:50","d":300},{"t":"2018-02-13T05:10","d":320},{"t":"2018-02-13T05:50","d":295},
{"t":"2018-02-13T06:10","d":310},{"t":"2018-02-13T06:50","d":270},{"t":"2018-02-13T07:10","d":300},
{"t":"2018-02-13T10:10","d":150},{"t":"2018-02-13T10:50","d":165},{"t":"2018-02-13T11:10","d":140},{"t":"2018-02-13T11:50","d":172},
{"t":"2018-02-13T12:10","d":158},{"t":"2018-02-13T12:50","d":135},{"t":"2018-02-13T13:10","d":148},{"t":"2018-02-13T13:50","d":170},
{"t":"2018-02-13T14:10","d":155},{"t":"2018-02-13T14:50","d":140},{"t":"2018-02-13T15:10","d":162},{"t":"2018-02-13T15:50","d":145},
{"t":"2018-02-13T16:10","d":178},{"t":"2018-02-13T16:50","d":155},{"t":"2018-02-13T17:10","d":200},{"t":"2018-02-13T17:50","d":185},
{"t":"2018-02-13T18:10","d":195},
{"t":"2018-02-13T20:10","d":320},{"t":"2018-02-13T20:50","d":300},{"t":"2018-02-13T21:10","d":338},{"t":"2018-02-13T21:50","d":310},
{"t":"2018-02-13T22:10","d":325},{"t":"2018-02-13T22:50","d":295},{"t":"2018-02-13T23:10","d":340},{"t":"2018-02-13T23:50","d":315},
{"t":"2018-02-14T00:10","d":305},{"t":"2018-02-14T00:50","d":328},{"t":"2018-02-14T01:10","d":312},{"t":"2018-02-14T01:50","d":345},
{"t":"2018-02-14T02:10","d":300},{"t":"2018-02-14T02:50","d":320},{"t":"2018-02-14T03:10","d":330},{"t":"2018-02-14T03:50","d":308},
{"t":"2018-02-14T04:10","d":295},{"t":"2018-02-14T04:50","d":340},{"t":"2018-02-14T05:10","d":318},{"t":"2018-02-14T05:50","d":302},
{"t":"2018-02-14T06:10","d":335},{"t":"2018-02-14T06:50","d":290},{"t":"2018-02-14T07:10","d":315},{"t":"2018-02-14T07:50","d":328},
{"t":"2018-02-14T10:10","d":150},{"t":"2018-02-14T11:10","d":160},{"t":"2018-02-14T11:50","d":140},{"t":"2018-02-14T12:10","d":168},
{"t":"2018-02-14T12:50","d":145},{"t":"2018-02-14T13:10","d":155},{"t":"2018-02-14T13:50","d":130},{"t":"2018-02-14T14:10","d":150},
{"t":"2018-02-14T14:50","d":165},{"t":"2018-02-14T15:10","d":142},{"t":"2018-02-14T15:50","d":158},{"t":"2018-02-14T16:10","d":135},
{"t":"2018-02-14T20:10","d":310},{"t":"2018-02-14T20:50","d":295},{"t":"2018-02-14T21:10","d":325},{"t":"2018-02-14T21:50","d":300},
{"t":"2018-02-14T22:10","d":288},{"t":"2018-02-14T22:50","d":318},{"t":"2018-02-14T23:10","d":305},{"t":"2018-02-14T23:50","d":330},
{"t":"2018-02-15T00:10","d":292},{"t":"2018-02-15T00:50","d":315},{"t":"2018-02-15T01:10","d":300},{"t":"2018-02-15T01:50","d":325},
{"t":"2018-02-15T02:10","d":285},{"t":"2018-02-15T02:50","d":310},{"t":"2018-02-15T03:10","d":298},{"t":"2018-02-15T03:50","d":330},
{"t":"2018-02-15T04:10","d":305},{"t":"2018-02-15T04:50","d":280},{"t":"2018-02-15T05:10","d":320},{"t":"2018-02-15T05:50","d":290},
{"t":"2018-02-15T08:10","d":10},{"t":"2018-02-15T08:50","d":22},{"t":"2018-02-15T09:10","d":3},{"t":"2018-02-15T09:50","d":18},
{"t":"2018-02-15T10:10","d":28}
]},
"mark": {"type": "circle", "color": "#118811", "size": 10, "opacity": 1},
"encoding": {
"x": {"field": "t", "type": "temporal", "axis": null},
"y": {"field": "d", "type": "quantitative", "scale": {"domain": [0, 360], "nice": false, "zero": false}, "axis": null}
}
}
],
"resolve": {"scale": {"y": "independent"}, "axis": {"x": "independent", "y": "independent"}}
},
{
"title": {"text": "Latest Time: 10:30:00 AM 2/15/2018", "anchor": "end", "fontSize": 7.5, "fontWeight": "bold", "color": "#222222", "offset": 3},
"data": {"values": [
{"row": "h", "chk": "off", "plot": "Plot", "latest": "Latest", "unit": "Unit", "s": "h"},
{"row": "wdir", "chk": "on", "plot": "wdir: Paiute-Bishop", "latest": "8.760", "unit": "°", "s": "wdir"},
{"row": "wspd", "chk": "off", "plot": "wspd: Paiute-Bishop", "latest": "9.770", "unit": "mph", "s": "wspd"},
{"row": "maxgust", "chk": "on", "plot": "maxgust: Paiute-Bishop", "latest": "20.82", "unit": "mph", "s": "maxgust"}
]},
"spacing": 0,
"bounds": "flush",
"resolve": {"scale": {"x": "independent"}},
"hconcat": [
{
"width": 8, "height": 43,
"view": {"fill": "white", "stroke": "#505050"},
"layer": [
{"mark": {"type": "rule", "color": "#505050", "strokeWidth": 1},
"encoding": {"y": {"field": "row", "type": "nominal", "bandPosition": 0, "scale": {"type": "band", "domain": ["h", "wdir", "wspd", "maxgust"], "paddingInner": 0, "paddingOuter": 0}, "axis": null}}},
{"mark": {"type": "point", "shape": "square", "size": 30, "filled": true, "fill": "white", "stroke": "#777777", "strokeWidth": 0.8},
"encoding": {"y": {"field": "row", "type": "nominal", "scale": {"type": "band", "domain": ["h", "wdir", "wspd", "maxgust"], "paddingInner": 0, "paddingOuter": 0}, "axis": null}}},
{"transform": [{"filter": "datum.chk == 'on'"}],
"mark": {"type": "text", "text": "✓", "fontSize": 7, "color": "#222222", "font": "DejaVu Sans"},
"encoding": {"y": {"field": "row", "type": "nominal", "scale": {"type": "band", "domain": ["h", "wdir", "wspd", "maxgust"], "paddingInner": 0, "paddingOuter": 0}, "axis": null}}}
]
},
{
"width": 104, "height": 43,
"view": {"fill": "white", "stroke": "#505050"},
"layer": [
{"mark": {"type": "rule", "color": "#505050", "strokeWidth": 1},
"encoding": {"y": {"field": "row", "type": "nominal", "bandPosition": 0, "scale": {"type": "band", "domain": ["h", "wdir", "wspd", "maxgust"], "paddingInner": 0, "paddingOuter": 0}, "axis": null}}},
{"transform": [{"filter": "datum.row == 'h'"}],
"mark": {"type": "text", "align": "left", "dx": 2, "fontSize": 7, "fontWeight": "bold", "color": "#333333"},
"encoding": {
"x": {"datum": 0, "type": "quantitative", "scale": {"domain": [0, 1]}, "axis": null},
"y": {"field": "row", "type": "nominal", "scale": {"type": "band", "domain": ["h", "wdir", "wspd", "maxgust"], "paddingInner": 0, "paddingOuter": 0}, "axis": null},
"text": {"field": "plot"}}},
{"transform": [{"filter": "datum.row != 'h'"}],
"mark": {"type": "text", "align": "left", "dx": 2, "fontSize": 7},
"encoding": {
"x": {"datum": 0, "type": "quantitative", "scale": {"domain": [0, 1]}, "axis": null},
"y": {"field": "row", "type": "nominal", "scale": {"type": "band", "domain": ["h", "wdir", "wspd", "maxgust"], "paddingInner": 0, "paddingOuter": 0}, "axis": null},
"text": {"field": "plot"},
"color": {"field": "s", "type": "nominal", "scale": {"domain": ["wdir", "wspd", "maxgust"], "range": ["#2a8a2a", "#ff3030", "#3030ff"]}, "legend": null}}}
]
},
{
"width": 30, "height": 43,
"view": {"fill": "white", "stroke": "#505050"},
"layer": [
{"mark": {"type": "rule", "color": "#505050", "strokeWidth": 1},
"encoding": {"y": {"field": "row", "type": "nominal", "bandPosition": 0, "scale": {"type": "band", "domain": ["h", "wdir", "wspd", "maxgust"], "paddingInner": 0, "paddingOuter": 0}, "axis": null}}},
{"transform": [{"filter": "datum.row == 'h'"}],
"mark": {"type": "text", "align": "left", "dx": 2, "fontSize": 7, "fontWeight": "bold", "color": "#333333"},
"encoding": {
"x": {"datum": 0, "type": "quantitative", "scale": {"domain": [0, 1]}, "axis": null},
"y": {"field": "row", "type": "nominal", "scale": {"type": "band", "domain": ["h", "wdir", "wspd", "maxgust"], "paddingInner": 0, "paddingOuter": 0}, "axis": null},
"text": {"field": "latest"}}},
{"transform": [{"filter": "datum.row != 'h'"}],
"mark": {"type": "text", "align": "left", "dx": 2, "fontSize": 7},
"encoding": {
"x": {"datum": 0, "type": "quantitative", "scale": {"domain": [0, 1]}, "axis": null},
"y": {"field": "row", "type": "nominal", "scale": {"type": "band", "domain": ["h", "wdir", "wspd", "maxgust"], "paddingInner": 0, "paddingOuter": 0}, "axis": null},
"text": {"field": "latest"},
"color": {"field": "s", "type": "nominal", "scale": {"domain": ["wdir", "wspd", "maxgust"], "range": ["#2a8a2a", "#ff3030", "#3030ff"]}, "legend": null}}}
]
},
{
"width": 23, "height": 43,
"view": {"fill": "white", "stroke": "#505050"},
"layer": [
{"mark": {"type": "rule", "color": "#505050", "strokeWidth": 1},
"encoding": {"y": {"field": "row", "type": "nominal", "bandPosition": 0, "scale": {"type": "band", "domain": ["h", "wdir", "wspd", "maxgust"], "paddingInner": 0, "paddingOuter": 0}, "axis": null}}},
{"transform": [{"filter": "datum.row == 'h'"}],
"mark": {"type": "text", "align": "left", "dx": 2, "fontSize": 7, "fontWeight": "bold", "color": "#333333"},
"encoding": {
"x": {"datum": 0, "type": "quantitative", "scale": {"domain": [0, 1]}, "axis": null},
"y": {"field": "row", "type": "nominal", "scale": {"type": "band", "domain": ["h", "wdir", "wspd", "maxgust"], "paddingInner": 0, "paddingOuter": 0}, "axis": null},
"text": {"field": "unit"}}},
{"transform": [{"filter": "datum.row != 'h'"}],
"mark": {"type": "text", "align": "left", "dx": 2, "fontSize": 7},
"encoding": {
"x": {"datum": 0, "type": "quantitative", "scale": {"domain": [0, 1]}, "axis": null},
"y": {"field": "row", "type": "nominal", "scale": {"type": "band", "domain": ["h", "wdir", "wspd", "maxgust"], "paddingInner": 0, "paddingOuter": 0}, "axis": null},
"text": {"field": "unit"},
"color": {"field": "s", "type": "nominal", "scale": {"domain": ["wdir", "wspd", "maxgust"], "range": ["#2a8a2a", "#ff3030", "#3030ff"]}, "legend": null}}}
]
}
]
}
]
}
